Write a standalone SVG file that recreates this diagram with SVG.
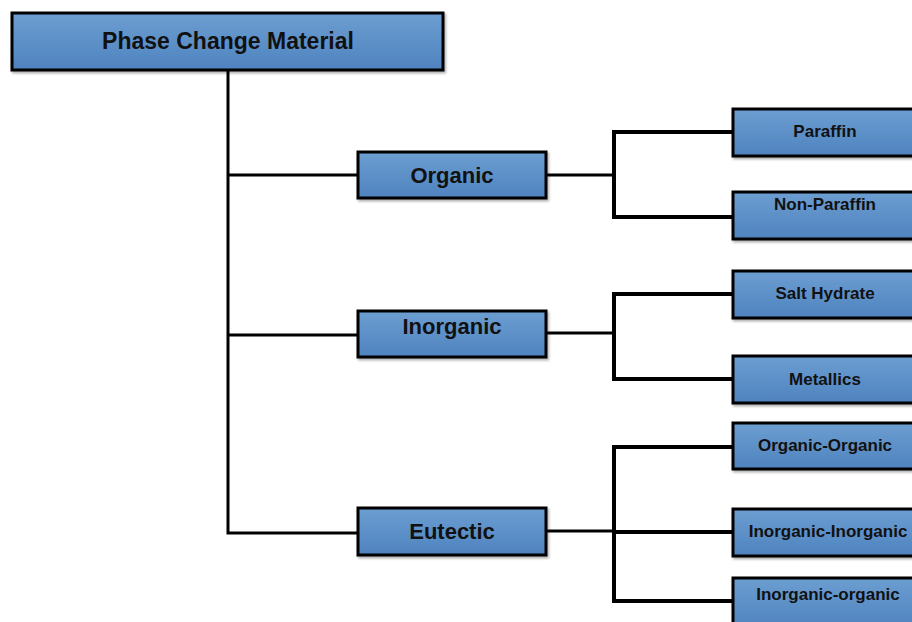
<svg xmlns="http://www.w3.org/2000/svg" width="912" height="622" viewBox="0 0 912 622">
<defs>
<linearGradient id="g" x1="0" y1="0" x2="0" y2="1">
<stop offset="0" stop-color="#6c9ed1"/>
<stop offset="1" stop-color="#4f83bf"/>
</linearGradient>
<filter id="sh" x="-5%" y="-10%" width="115%" height="130%">
<feDropShadow dx="1.5" dy="2" stdDeviation="1.2" flood-color="#000" flood-opacity="0.3"/>
</filter>
</defs>
<style>
.box{fill:url(#g);stroke:#000;stroke-width:3;filter:url(#sh)}
.t{font-family:"Liberation Sans",Arial,sans-serif;font-weight:bold;fill:#111;text-anchor:middle;dominant-baseline:central}
.big{font-size:23px}
.mid{font-size:22px}
.sm{font-size:17px}
.c{fill:none;stroke:#000;stroke-linecap:square}
</style>
<rect width="912" height="622" fill="#fff"/>
<g id="connectors">
<path class="c" stroke-width="3" d="M228 70 V533 M228 175 H358 M228 335 H358 M228 533 H358"/>
<path class="c" stroke-width="3" d="M546 175 H614 M546 333 H614 M546 531 H614"/>
<path class="c" stroke-width="4" d="M614 132 V217 M614 132 H733 M614 217 H733"/>
<path class="c" stroke-width="4" d="M614 294 V379 M614 294 H733 M614 379 H733"/>
<path class="c" stroke-width="4" d="M614 447 V601 M614 447 H733 M614 532 H733 M614 601 H733"/>
</g>
<g id="n-pcm"><rect class="box" x="12" y="13" width="431" height="57"/><text class="t big" x="228" y="41">Phase Change Material</text></g>
<g id="n-organic"><rect class="box" x="358" y="152" width="188" height="46"/><text class="t mid" x="452" y="175">Organic</text></g>
<g id="n-inorganic"><rect class="box" x="358" y="311" width="188" height="46"/><text class="t mid" x="452" y="326">Inorganic</text></g>
<g id="n-eutectic"><rect class="box" x="358" y="508" width="188" height="47"/><text class="t mid" x="452" y="531">Eutectic</text></g>
<g id="n-paraffin"><rect class="box" x="733" y="109" width="182" height="47"/><text class="t sm" x="825" y="131">Paraffin</text></g>
<g id="n-nonparaffin"><rect class="box" x="733" y="192" width="182" height="47"/><text class="t sm" x="825" y="204">Non-Paraffin</text></g>
<g id="n-salthydrate"><rect class="box" x="733" y="271" width="182" height="47"/><text class="t sm" x="825" y="293">Salt Hydrate</text></g>
<g id="n-metallics"><rect class="box" x="733" y="356" width="182" height="47"/><text class="t sm" x="825" y="379">Metallics</text></g>
<g id="n-orgorg"><rect class="box" x="733" y="423" width="182" height="46"/><text class="t sm" x="825" y="445">Organic-Organic</text></g>
<g id="n-inoinorg"><rect class="box" x="733" y="509" width="182" height="47"/><text class="t sm" x="828" y="531">Inorganic-Inorganic</text></g>
<g id="n-inoorg"><rect class="box" x="733" y="578" width="182" height="50"/><text class="t sm" x="828" y="594">Inorganic-organic</text></g>
</svg>
